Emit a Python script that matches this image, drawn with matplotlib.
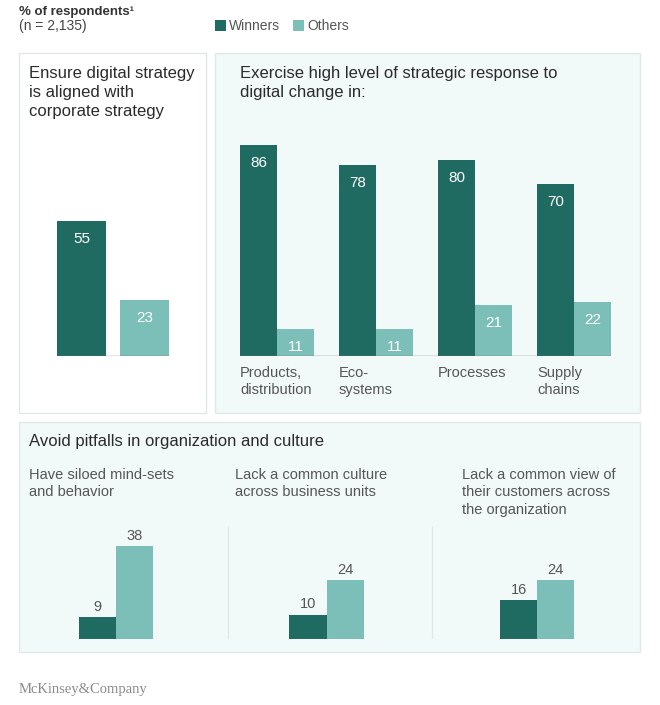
import matplotlib.pyplot as plt
from matplotlib.patches import Rectangle

plt.rcParams["font.family"] = ["Liberation Sans", "DejaVu Sans"]

W, H = 660, 705
WIN = "#1f6a61"
OTH = "#7cbfb8"
PANEL = "#f2f9f9"
EDGE = "#e2e8e8"
GREY = "#555555"
PX = 2.45  # pixels per percentage point

series = ["Winners", "Others"]

align_title = "Ensure digital strategy\nis aligned with\ncorporate strategy"
align_values = [55, 23]

response_title = "Exercise high level of strategic response to\ndigital change in:"
response_cats = ["Products,\ndistribution", "Eco-\nsystems", "Processes", "Supply\nchains"]
response_winners = [86, 78, 80, 70]
response_others = [11, 11, 21, 22]

pitfall_title = "Avoid pitfalls in organization and culture"
pitfall_cats = ["Have siloed mind-sets\nand behavior",
                "Lack a common culture\nacross business units",
                "Lack a common view of\ntheir customers across\nthe organization"]
pitfall_winners = [9, 10, 16]
pitfall_others = [38, 24, 24]


def box(x0, y0, x1, y1):
    # pixel box (top-down) -> figure fraction
    return [x0 / W, 1 - y1 / H, (x1 - x0) / W, (y1 - y0) / H]


def clean(ax):
    ax.set_facecolor("none")
    for s in ax.spines.values():
        s.set_visible(False)
    ax.set_xticks([])
    ax.set_yticks([])


fig = plt.figure(figsize=(6.6, 7.05), dpi=100)
fig.patch.set_facecolor("white")

# background canvas in pixel coordinates
bg = fig.add_axes([0, 0, 1, 1])
bg.set_xlim(0, W)
bg.set_ylim(H, 0)
bg.axis("off")

bg.add_patch(Rectangle((19, 53), 187, 360, fc="white", ec=EDGE, lw=1))
bg.add_patch(Rectangle((215, 53), 425, 360, fc=PANEL, ec=EDGE, lw=1))
bg.add_patch(Rectangle((19, 422), 621, 230, fc=PANEL, ec=EDGE, lw=1))

# header
bg.text(19, 15, "% of respondents\u00b9", fontsize=9.5, fontweight="semibold",
        color="#333333", va="baseline")
bg.text(19, 30, "(n = 2,135)", fontsize=10, color="#444444", va="baseline")
for x, name, c in [(215, series[0], WIN), (293, series[1], OTH)]:
    bg.add_patch(Rectangle((x, 20), 11, 11, fc=c, ec="none"))
    bg.text(x + 14, 26, name, fontsize=10, color=GREY, va="center")

# panel titles
bg.text(29, 66, align_title, fontsize=12, color="#2b2b2b", va="top", linespacing=1.35)
bg.text(240, 66, response_title, fontsize=12, color="#2b2b2b", va="top", linespacing=1.35)
bg.text(29, 434, pitfall_title, fontsize=12, color="#2b2b2b", va="top")
for x, t in zip([29, 235, 462], pitfall_cats):
    bg.text(x, 468, t, fontsize=10.5, color=GREY, va="top", linespacing=1.3)

bg.text(19, 690, "McKinsey&Company", fontsize=10.5, family="Liberation Serif",
        color="#8a8a8a", va="center")


def inside_labels(ax, xs, vals):
    for x, v in zip(xs, vals):
        ax.annotate(str(v), (x, v), xytext=(0, -22), textcoords="offset pixels",
                    ha="center", va="baseline", color="white", fontsize=11)


# panel 1
ax1 = fig.add_axes(box(56.9, 356 - 100 * PX, 169.1, 356))
clean(ax1)
ax1.bar([0, 1], align_values, width=0.78, color=[WIN, OTH])
ax1.set_xlim(-0.39, 1.39)
ax1.set_ylim(0, 100)
ax1.axhline(0, color="#777777", lw=1)
inside_labels(ax1, [0, 1], align_values)

# panel 2
ax2 = fig.add_axes(box(240, 356 - 100 * PX, 611, 356))
clean(ax2)
idx = range(len(response_cats))
xw = [i - 0.187 for i in idx]
xo = [i + 0.187 for i in idx]
ax2.bar(xw, response_winners, width=0.374, color=WIN)
ax2.bar(xo, response_others, width=0.374, color=OTH)
ax2.set_xlim(-0.374, 3.374)
ax2.set_ylim(0, 100)
ax2.axhline(0, color="#777777", lw=1)
inside_labels(ax2, xw, response_winners)
inside_labels(ax2, xo, response_others)
for i, c in zip(idx, response_cats):
    ax2.annotate(c, (i - 0.374, 0), xytext=(0, -10), textcoords="offset pixels",
                 ha="left", va="top", color=GREY, fontsize=10.5, linespacing=1.3)

# panel 3
ax3 = fig.add_axes(box(19, 639 - 46 * PX, 640, 639))
clean(ax3)
idx = range(len(pitfall_cats))
xw = [i - 0.088 for i in idx]
xo = [i + 0.088 for i in idx]
ax3.bar(xw, pitfall_winners, width=0.176, color=WIN)
ax3.bar(xo, pitfall_others, width=0.176, color=OTH)
ax3.set_xlim(-0.4608, 2.489)
ax3.set_ylim(0, 46)
ax3.vlines([0.53, 1.5], 0, 46, color="#e1e7e7", lw=0.9)
ax3.hlines([0] * 3, [i - 0.176 for i in idx], [i + 0.176 for i in idx], color="#8c9a98", lw=0.8)
for x, v in list(zip(xw, pitfall_winners)) + list(zip(xo, pitfall_others)):
    ax3.annotate(str(v), (x, v), xytext=(0, 6), textcoords="offset pixels",
                 ha="center", va="baseline", color=GREY, fontsize=10.5)

fig.savefig("out.png", dpi=100)
